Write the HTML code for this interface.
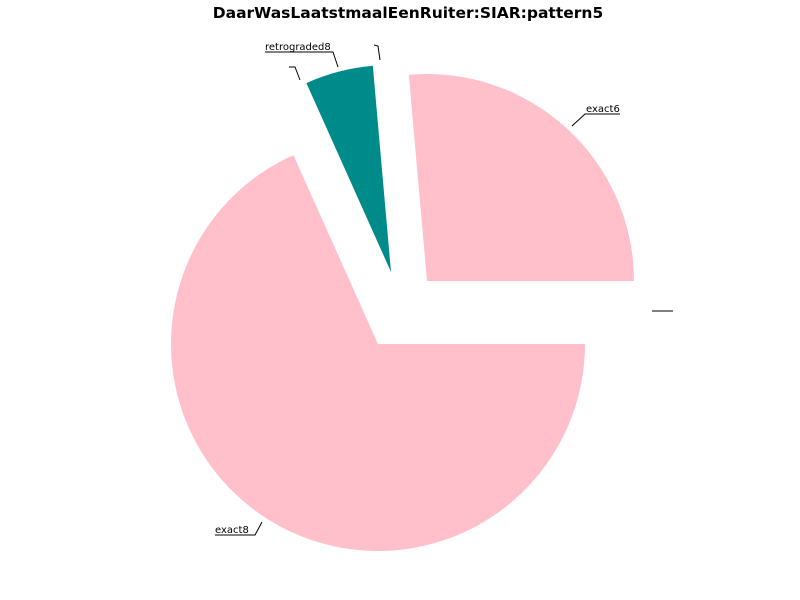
<!DOCTYPE html>
<html><head><meta charset="utf-8"><style>
body{margin:0;background:#fff;}
svg{display:block;font-family:"DejaVu Sans","Liberation Sans",sans-serif;}
</style></head><body>
<svg id="chart" width="800" height="600">
<text x="408" y="18" text-anchor="middle" font-size="15.5" font-weight="bold">DaarWasLaatstmaalEenRuiter:SIAR:pattern5</text>
<g id="wedges"></g>
<g id="labels" font-size="10"></g>
</svg>
<script>
const categories = ["exact6", "retrograded8", "exact8"];
const values = [26.4, 5.3, 68.3];
const colors = ["#ffc0cb", "#008b8b", "#ffc0cb"];
const offsets = [[49,-63],[13,-72],[0,0]];
const cx = 378, cy = 344, R = 207;
const NS = "http://www.w3.org/2000/svg";
const total = values.reduce((a,b)=>a+b,0);
const wg = document.getElementById('wedges');
let a0 = 0;
values.forEach((v,i)=>{
  const a1 = a0 + v/total*2*Math.PI;
  const ox = cx + offsets[i][0], oy = cy + offsets[i][1];
  const x0 = ox + R*Math.cos(a0), y0 = oy - R*Math.sin(a0);
  const x1 = ox + R*Math.cos(a1), y1 = oy - R*Math.sin(a1);
  const large = (a1-a0) > Math.PI ? 1 : 0;
  const p = document.createElementNS(NS,'path');
  p.setAttribute('d',`M${ox},${oy} L${x0},${y0} A${R},${R} 0 ${large} 0 ${x1},${y1} Z`);
  p.setAttribute('fill',colors[i]);
  
  
  wg.appendChild(p);
  a0 = a1;
});
const lg = document.getElementById('labels');
const lines = [
  ["exact6-leader","572,126 585,114 620,114"],
  ["retrograded8-leader","338,67 333,52 265,52"],
  ["exact8-leader","262,522 255,535 215,535"],
  ["empty-leader-1","374,45 378,46 380,60"],
  ["empty-leader-2","289,67 295,67 300,80"],
  ["empty-leader-3","652,311 673,311"]
];
lines.forEach(l=>{
  const pl = document.createElementNS(NS,'polyline');
  pl.setAttribute('points',l[1]);
  pl.setAttribute('fill','none');
  pl.setAttribute('stroke','#000');
  pl.setAttribute('stroke-width','1');
  
  
  lg.appendChild(pl);
});
const texts = [["exact6",586,112],["retrograded8",265,50],["exact8",215,533]];
texts.forEach(t=>{
  const tx = document.createElementNS(NS,'text');
  tx.setAttribute('x',t[1]); tx.setAttribute('y',t[2]);
  tx.textContent = t[0];
  
  
  lg.appendChild(tx);
});
</script>
</body></html>
